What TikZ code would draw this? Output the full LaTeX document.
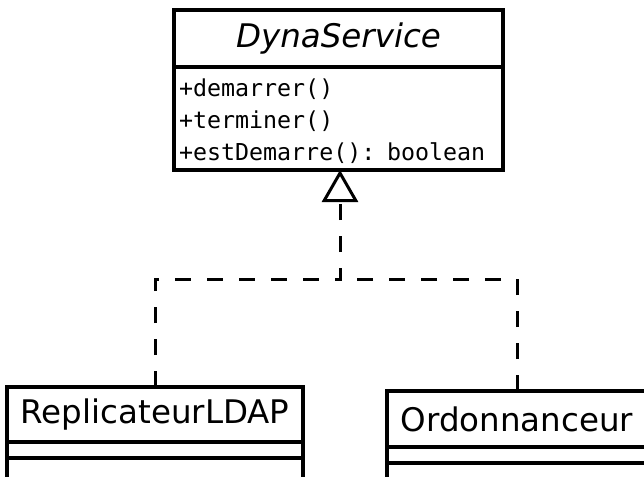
\documentclass[tikz,border=0pt]{standalone}
\usepackage{fontspec}
\setsansfont{DejaVu Sans}
\setmonofont{DejaVu Sans Mono}
\usetikzlibrary{arrows.meta,positioning}

\begin{document}
\begin{tikzpicture}[
  x=1pt, y=-1pt,
  node distance=0pt,
  compart/.style={draw, line width=3.2pt, outer sep=0pt, inner sep=0pt},
  cname/.style={compart, font=\sffamily\fontsize{32.5}{38}\selectfont},
  cops/.style={compart, inner xsep=5pt, align=left,
               font=\ttfamily\fontsize{23.3}{32}\selectfont},
  realize/.style={line width=3pt, dash pattern=on 16pt off 16pt,
                  -{Triangle[open, length=32pt, width=36pt, line width=3pt]}},
  link/.style={line width=3pt, dash pattern=on 16pt off 16pt}
]
\clip (0,0) rectangle (644,476);
% interface
\node[cname, minimum width=329pt, minimum height=57pt] (dyna) at (338.5,38.5)
  {\itshape DynaService};
\node[cops, below=of dyna, text width=319pt, minimum height=103pt] (dynaops)
  {\strut+demarrer()\\+terminer()\\+estDemarre(): boolean};
% implementations
\node[cname, minimum width=296pt, minimum height=55pt] (rep) at (155,414.5)
  {ReplicateurLDAP};
\node[compart, below=of rep, minimum width=296pt, minimum height=16pt] (repattr) {};
\node[compart, below=of repattr, minimum width=296pt, minimum height=30pt] (repops) {};
\node[cname, minimum width=260pt, minimum height=56pt] (ord) at (517,419)
  {Ordonnanceur};
\node[compart, below=of ord, minimum width=260pt, minimum height=16pt] (ordattr) {};
\node[compart, below=of ordattr, minimum width=260pt, minimum height=30pt] (ordops) {};
% realization
\coordinate (jn) at (340,279);
\draw[realize] (rep.north) |- (jn) -- (jn |- dynaops.south);
\draw[link] (ord.north) |- (jn);
\end{tikzpicture}
\end{document}
